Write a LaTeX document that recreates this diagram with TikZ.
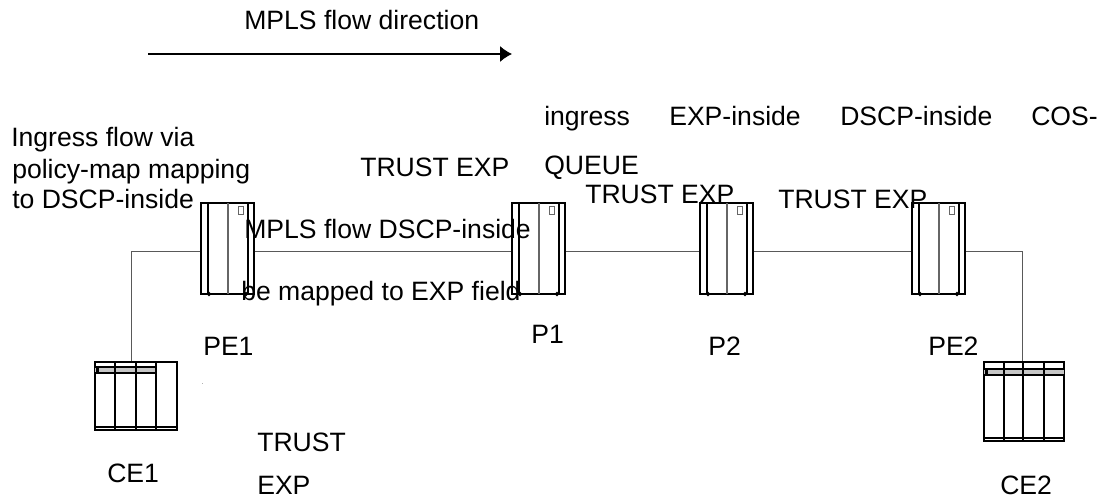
\documentclass[tikz,border=0pt]{standalone}
\usepackage{fontspec}
\usetikzlibrary{arrows.meta}
\setmainfont{Liberation Sans}
\newcommand{\unitsize}{0.025cm}

% router cabinet, top left corner at (#2,#3)
\newcommand{\routerbox}[3]{
\begin{scope}[shift={(#2*\unitsize,-#3*\unitsize)}]
\node[cabinet, minimum width=53*\unitsize, minimum height=91*\unitsize] (#1) at (26.5,45.5) {};
\draw[very thick] (7,0) -- (7,91);
\draw[very thick] (47,0) -- (47,91);
\draw[gray!80!black, thick] (27,0) -- (27,91);
\draw[gray!80!black] (37,3) rectangle (42,11);
\draw[thick] (8,91) circle (1.5);
\draw[thick] (45,91) circle (1.5);
\end{scope}
}

% rack with four slots: width, height and top of band, then its slot positions
\newcommand{\rackbox}[8]{
\begin{scope}[shift={(#2*\unitsize,-#3*\unitsize)}]
\node[cabinet, minimum width=#4*\unitsize, minimum height=#5*\unitsize] (#1) at (#4/2,#5/2) {};
\fill[gray!45] (0,#6) rectangle (#7,#6+6);
\draw[thick] (0,#6) -- (#7,#6);
\draw[thick] (0,#6+6) -- (#7,#6+6);
\fill[black] (1,#6+1) rectangle (4,#6+5);
\foreach \slotx in {#8} {
\draw[very thick] (\slotx,0) -- (\slotx,#5);
}
\draw[thick] (0,#5-3) -- (#4,#5-3);
\end{scope}
}

\begin{document}
\begin{tikzpicture}[x=\unitsize,y=-\unitsize]
\tikzstyle{cabinet}=[draw, thick, rectangle, inner sep=0pt]
\tikzstyle{link}=[gray!70!black, semithick]
\tikzstyle{label}=[anchor=base west, inner sep=0pt, font=\fontsize{18.9}{22}\selectfont]
\useasboundingbox (0,0) rectangle (1103,499);

\routerbox{PE1}{201}{203}
\routerbox{P1}{512}{203}
\routerbox{P2}{700}{203}
\routerbox{PE2}{912}{203}
\rackbox{CE1}{95}{362}{82}{68}{5}{61}{20,41,61}
\rackbox{CE2}{984}{362}{80}{79}{7}{80}{20,39,60}

\coordinate (turnA) at (131,251);
\coordinate (turnB) at (1022,251);
\coordinate (startflow) at (148,54);
\coordinate (endflow) at (512,54);

\draw[link] (PE1.west |- turnA) -- (turnA) -- (turnA |- CE1.north);
\draw[link] (PE1.east |- turnA) -- (P1.west |- turnA);
\draw[link] (P1.east |- turnA) -- (P2.west |- turnA);
\draw[link] (P2.east |- turnA) -- (PE2.west |- turnA);
\draw[link] (PE2.east |- turnB) -- (turnB) -- (turnB |- CE2.north);
\draw[thick, -{Latex[length=12*\unitsize,width=16*\unitsize]}] (startflow) -- (endflow);

\fill[gray!60] (201.5,382.5) rectangle (203,384);

\node[label] (flow) at (244,30) {MPLS flow direction};

\node[label] (ingress) at (544,125) {ingress};
\node[label] (expin) at (669,125) {EXP-inside};
\node[label] (dscpin) at (840,125) {DSCP-inside};
\node[label] (cos) at (1031,125) {COS-};
\node[label] (queue) at (544,174) {QUEUE};

\node[label] (via1) at (11,146) {Ingress flow via};
\node[label] (via2) at (12,178) {policy-map mapping};
\node[label] (via3) at (12,208) {to DSCP-inside};

\node[label] (trustA) at (360,176) {TRUST EXP};
\node[label] (trustB) at (585,203) {TRUST EXP};
\node[label] (trustC) at (778,208) {TRUST EXP};

\node[label] (mplsA) at (244,238) {MPLS flow DSCP-inside};
\node[label] (mplsB) at (241,300) {be mapped to EXP field};

\node[label] (namePE1) at (203,355) {PE1};
\node[label] (nameP1) at (531,343) {P1};
\node[label] (nameP2) at (708,355) {P2};
\node[label] (namePE2) at (928,355) {PE2};
\node[label] (nameCE1) at (107,482) {CE1};
\node[label] (nameCE2) at (1000,494) {CE2};

\node[label] (trustD) at (257,451) {TRUST};
\node[label] (trustE) at (257,494) {EXP};
\end{tikzpicture}
\end{document}
